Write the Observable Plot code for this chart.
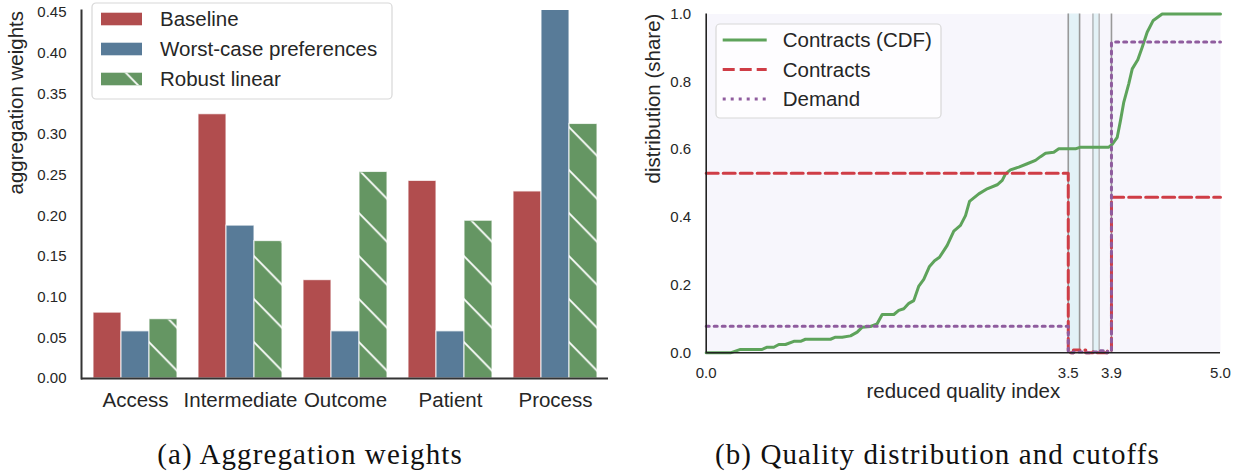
<!DOCTYPE html>
<html>
<head>
<meta charset="utf-8">
<script src="https://cdn.jsdelivr.net/npm/d3@7"></script>
<script src="https://cdn.jsdelivr.net/npm/@observablehq/plot@0.6"></script>
<style>
  body { margin: 0; background: white; }
  #wrap { position: relative; width: 1241px; height: 474px; overflow: hidden; background: white; }
  #leftBars, #leftAxes, #right { position: absolute; top: 0; }
  #leftBars, #leftAxes { left: 0; }
  #right { left: 620px; }
  .cap { position: absolute; top: 440px; font-family: "Liberation Serif", serif; font-size: 29px; line-height: 29px; color: #111; text-align: center; letter-spacing: 1.1px; white-space: nowrap; }
</style>
</head>
<body>
<div id="wrap">
  <div id="leftBars"></div>
  <div id="leftAxes"></div>
  <div id="right"></div>
  <div class="cap" style="left:0px; width:620px;">(a) Aggregation weights</div>
  <div class="cap" style="left:627px; width:621px;">(b) Quality distribution and cutoffs</div>
</div>
<script>
// ---------- Data: panel (a) ----------
const categories = ["Access", "Intermediate", "Outcome", "Patient", "Process"];
const series = ["Baseline", "Worst-case preferences", "Robust linear"];
const baselineWeights = [0.081, 0.325, 0.121, 0.243, 0.230];
const worstCaseWeights = [0.058, 0.188, 0.058, 0.058, 0.460];
const robustWeights = [0.073, 0.169, 0.254, 0.194, 0.313];
const weightTicks = [0, 0.05, 0.10, 0.15, 0.20, 0.25, 0.30, 0.35, 0.40, 0.45];
const barColors = ["#b14d4e", "#587b98", "#659663"];

// ---------- Data: panel (b) ----------
const cdfX = [0, 0.236, 0.333, 0.544, 0.593, 0.657, 0.706, 0.771, 0.852, 0.917, 0.965, 1.208, 1.257, 1.322, 1.403, 1.468, 1.517, 1.597, 1.662, 1.711, 1.824, 1.872, 1.921, 1.970, 2.018, 2.067, 2.115, 2.171, 2.220, 2.268, 2.343, 2.407, 2.472, 2.521, 2.560, 2.650, 2.732, 2.829, 2.878, 2.910, 2.958, 3.039, 3.121, 3.201, 3.250, 3.299, 3.379, 3.428, 3.590, 3.639, 3.914, 3.947, 3.996, 4.028, 4.060, 4.108, 4.142, 4.196, 4.239, 4.287, 4.346, 4.433, 5.0];
const cdfY = [0, 0, 0.010, 0.010, 0.0165, 0.0165, 0.0245, 0.0245, 0.034, 0.034, 0.040, 0.040, 0.046, 0.046, 0.050, 0.061, 0.0756, 0.0776, 0.0856, 0.113, 0.113, 0.125, 0.130, 0.146, 0.154, 0.197, 0.217, 0.255, 0.272, 0.282, 0.317, 0.359, 0.376, 0.405, 0.447, 0.469, 0.484, 0.496, 0.509, 0.528, 0.540, 0.548, 0.558, 0.568, 0.579, 0.589, 0.592, 0.602, 0.602, 0.607, 0.607, 0.615, 0.636, 0.686, 0.740, 0.794, 0.838, 0.865, 0.902, 0.946, 0.981, 1.0, 1.0];
const stepX = [0, 3.52, 3.57, 3.69, 3.76, 3.80, 3.86, 3.90, 3.94, 5.0];
const contractsShare = [0.530, 0.0, 0.008, 0.0, 0.003, 0.0, 0.0, 0.008, 0.459, 0.459];
const demandShare = [0.078, 0.0, 0.002, 0.0, 0.002, 0.006, 0.0, 0.004, 0.917, 0.917];
const cutoffBands = [[3.52, 3.63], [3.76, 3.82]];
const cutoffLines = [3.52, 3.63, 3.76, 3.82, 3.94];
const qualityTicks = [0, 3.52, 3.94, 5.0];
const shareTicks = [0, 0.2, 0.4, 0.6, 0.8, 1.0];
const lineSeries = ["Contracts (CDF)", "Contracts", "Demand"];
const lineColors = ["#5ea35b", "#cf3d46", "#8f5c9e"];

const textColor = "#262626";
const font = "'Liberation Sans', Arial, sans-serif";

// ---------- Panel (a) ----------
const weightValues = [baselineWeights, worstCaseWeights, robustWeights];
const weights = [];
categories.forEach((c, i) => series.forEach((s, j) => weights.push({category: c, series: s, value: weightValues[j][i]})));

const leftDims = {width: 620, height: 420, marginLeft: 81, marginRight: 12, marginTop: 10, marginBottom: 42};
const weightDomain = [0, 0.4525];

const leftBars = Plot.plot({
  ...leftDims,
  style: {fontFamily: font, fontSize: "15px", color: textColor, background: "transparent", overflow: "visible"},
  fx: {domain: categories, paddingInner: 0.2, paddingOuter: 0.1, label: null},
  x: {domain: series, padding: 0, axis: null},
  y: {domain: weightDomain, axis: null},
  color: {domain: series, range: barColors},
  marks: [
    Plot.barY(weights, {fx: "category", x: "series", y: "value", fill: "series", stroke: "white", strokeWidth: 1.2, strokeOpacity: 0.75, clip: true}),
    Plot.barY(weights.filter(d => d.series === "Robust linear"), {fx: "category", x: "series", y: "value", fill: "url(#hatch)", insetTop: 1, clip: true}),
    Plot.axisFx({anchor: "bottom", tickSize: 0, tickPadding: 14, fontSize: 20.5, label: null, fill: textColor})
  ]
});
document.getElementById("leftBars").appendChild(leftBars);

const leftAxes = Plot.plot({
  ...leftDims,
  style: {fontFamily: font, fontSize: "15px", color: textColor, background: "transparent", overflow: "visible"},
  y: {domain: weightDomain},
  marks: [
    Plot.ruleY([0], {stroke: "#333", strokeWidth: 2}),
    Plot.frame({anchor: "left", stroke: "#333", strokeWidth: 2}),
    Plot.axisY({ticks: weightTicks, tickFormat: ".2f", tickSize: 0, tickPadding: 15, label: null, fontSize: 15, fill: textColor}),
    Plot.text(["aggregation weights"], {text: d => d, frameAnchor: "left", rotate: -90, dx: -65, fontSize: 20.5, fill: textColor})
  ]
});
document.getElementById("leftAxes").appendChild(leftAxes);

// hatch pattern + legend for panel (a)
{
  const svg = d3.select(leftBars);
  const w = 42.1, h = 43;
  const pat = svg.insert("defs", ":first-child").append("pattern")
    .attr("id", "hatch").attr("patternUnits", "userSpaceOnUse")
    .attr("width", w).attr("height", h)
    .attr("patternTransform", "translate(0,30.2)");
  pat.append("path")
    .attr("d", `M${-w},${-h}L${2*w},${2*h}M0,${-h}L${2*w},${h}M${-w},0L${w},${2*h}`)
    .attr("stroke", "white").attr("stroke-width", 1.8).attr("fill", "none");

  const g = d3.select(leftAxes).append("g").attr("font-family", font).attr("font-size", 20.5)
    .attr("fill", textColor).attr("text-anchor", "start");
  g.append("rect").attr("x", 92).attr("y", 3).attr("width", 300).attr("height", 96)
    .attr("rx", 4).attr("fill", "white").attr("fill-opacity", 0.85).attr("stroke", "#d8d8d8").attr("stroke-width", 1.2);
  series.forEach((s, i) => {
    const cy = 19 + i * 30;
    g.append("rect").attr("x", 101).attr("y", cy - 6.3).attr("width", 41).attr("height", 12.6).attr("fill", barColors[i]);
    if (s === "Robust linear") {
      g.append("rect").attr("x", 101).attr("y", cy - 6.3).attr("width", 41).attr("height", 12.6).attr("fill", "url(#hatch)");
    }
    g.append("text").attr("x", 160).attr("y", cy).attr("dy", "0.35em").attr("text-anchor", "start").text(s);
  });
}

// ---------- Panel (b) ----------
const cdf = cdfX.map((x, i) => ({x, y: cdfY[i]}));
const contracts = stepX.map((x, i) => ({x, y: contractsShare[i]}));
const demand = stepX.map((x, i) => ({x, y: demandShare[i]}));

const right = Plot.plot({
  width: 621, height: 420,
  marginLeft: 85.7, marginRight: 21, marginTop: 13.5, marginBottom: 67.7,
  style: {fontFamily: font, fontSize: "15px", color: textColor, background: "transparent", overflow: "visible"},
  x: {domain: [0, 5], axis: null},
  y: {domain: [0, 1], axis: null},
  marks: [
    Plot.frame({fill: "#f7f6fc", stroke: "none"}),
    Plot.rect(cutoffBands, {x1: d => d[0], x2: d => d[1], fill: "#e3f2f7"}),
    Plot.ruleX(cutoffLines, {x: d => d, stroke: "#999", strokeWidth: d => (d === 3.76 || d === 3.82) ? 1 : 1.6}),
    Plot.line(cdf, {x: "x", y: "y", stroke: lineColors[0], strokeWidth: 3}),
    Plot.line(contracts, {x: "x", y: "y", curve: "step-after", stroke: lineColors[1], strokeWidth: 3, strokeDasharray: "12,5"}),
    Plot.line(demand, {x: "x", y: "y", curve: "step-after", stroke: lineColors[2], strokeWidth: 3, strokeDasharray: "3,5"}),
    Plot.ruleX([0], {stroke: "#222", strokeWidth: 1.6}),
    Plot.ruleY([0], {stroke: "#222", strokeWidth: 1.6}),
    Plot.axisX({ticks: qualityTicks, tickFormat: ".1f", tickSize: 0, tickPadding: 15, label: null, fontSize: 15, fill: textColor}),
    Plot.axisY({ticks: shareTicks, tickFormat: ".1f", tickSize: 0, tickPadding: 15, label: null, fontSize: 15, fill: textColor}),
    Plot.text(["reduced quality index"], {text: d => d, frameAnchor: "bottom", dy: 45, fontSize: 20.5, fill: textColor}),
    Plot.text(["distribution (share)"], {text: d => d, frameAnchor: "left", rotate: -90, dx: -52.3, fontSize: 20.5, fill: textColor})
  ]
});
document.getElementById("right").appendChild(right);

// legend for panel (b)
{
  const svg = d3.select(right);
  const g = svg.append("g").attr("font-family", font).attr("font-size", 20.5)
    .attr("fill", textColor).attr("text-anchor", "start");
  g.append("rect").attr("x", 96).attr("y", 24).attr("width", 225).attr("height", 94)
    .attr("rx", 4).attr("fill", "white").attr("fill-opacity", 0.8).attr("stroke", "#d8d8d8").attr("stroke-width", 1.2);
  const dashes = [null, "12,5", "3,5"];
  lineSeries.forEach((s, i) => {
    const cy = 40 + i * 29.5;
    const ln = g.append("line").attr("x1", 102.7).attr("x2", 146.7).attr("y1", cy).attr("y2", cy)
      .attr("stroke", lineColors[i]).attr("stroke-width", 3);
    if (dashes[i]) ln.attr("stroke-dasharray", dashes[i]);
    g.append("text").attr("x", 162.7).attr("y", cy).attr("dy", "0.35em").attr("text-anchor", "start").text(s);
  });
}
</script>
</body>
</html>
